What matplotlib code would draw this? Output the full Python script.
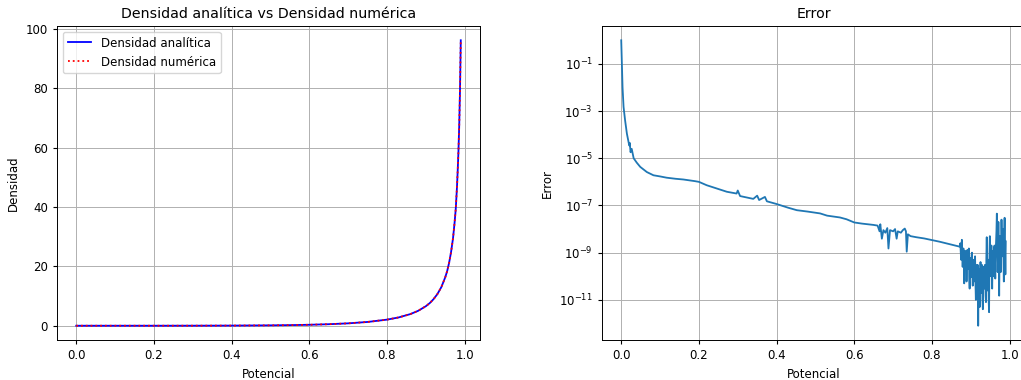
import matplotlib
matplotlib.use("Agg")
import matplotlib.pyplot as plt

plt.rcParams['font.size'] = 8.5
plt.rcParams['lines.linewidth'] = 1.3
plt.rcParams['axes.linewidth'] = 0.7
plt.rcParams['grid.linewidth'] = 0.7
plt.rcParams['xtick.major.size'] = 3
plt.rcParams['ytick.major.size'] = 3
plt.rcParams['ytick.minor.size'] = 1.7

# densidad
potencial = [0.0, 0.1, 0.2, 0.3, 0.4, 0.5, 0.55, 0.6, 0.65, 0.7, 0.75, 0.8, 0.83, 0.86,
             0.88, 0.9, 0.91, 0.92, 0.93, 0.94, 0.95, 0.955, 0.96, 0.965, 0.97, 0.974,
             0.977, 0.98, 0.982, 0.984, 0.986, 0.988, 0.99]
dens_analitica = [0.0, 0.0001, 0.002, 0.012, 0.043, 0.125, 0.2, 0.32, 0.51, 0.80, 1.27, 2.05,
                  2.79, 3.91, 5.0, 6.56, 7.6, 8.96, 10.7, 13.0, 16.3, 18.4, 21.2, 24.8, 29.4,
                  34.6, 39.2, 46.1, 51.9, 58.6, 67.4, 79.2, 96.1]
dens_numerica = [0.0, 0.0001, 0.002, 0.012, 0.043, 0.125, 0.2, 0.32, 0.51, 0.80, 1.27, 2.05,
                 2.79, 3.91, 5.0, 6.56, 7.6, 8.96, 10.7, 13.0, 16.3, 18.4, 21.2, 24.8, 29.4,
                 34.6, 39.2, 46.1, 51.9, 58.6, 67.4, 79.2, 96.1]

# error, tramo suave
pot_suave = [0.0, 0.0017, 0.0034, 0.006, 0.010, 0.0146, 0.0206, 0.022, 0.024, 0.027, 0.032,
             0.040, 0.049, 0.066, 0.083, 0.100, 0.117, 0.14, 0.160, 0.19, 0.20, 0.22, 0.25,
             0.272, 0.297, 0.300, 0.306, 0.34, 0.35, 0.355, 0.37, 0.375, 0.4, 0.43, 0.452,
             0.48, 0.512, 0.53, 0.563, 0.58, 0.6, 0.62, 0.649, 0.66, 0.665, 0.667, 0.671,
             0.675, 0.680, 0.685, 0.688, 0.692, 0.70, 0.705, 0.709, 0.712, 0.72, 0.725, 0.73,
             0.733, 0.735, 0.738, 0.745, 0.76, 0.78, 0.8, 0.82, 0.84, 0.854, 0.871]
err_suave = [1.0, 0.1, 1.0e-2, 1.5e-3, 4e-4, 1.1e-4, 3.5e-5, 4.5e-5, 1.8e-5, 2.5e-5, 1.0e-5,
             6.5e-6, 4.3e-6, 2.6e-6, 1.9e-6, 1.7e-6, 1.5e-6, 1.35e-6, 1.26e-6, 1.07e-6, 1.0e-6,
             7.2e-7, 5.0e-7, 3.8e-7, 3.2e-7, 4.3e-7, 2.5e-7, 1.9e-7, 2.6e-7, 1.7e-7, 2.3e-7,
             1.5e-7, 1.15e-7, 8e-8, 6.3e-8, 5.5e-8, 4.6e-8, 3.7e-8, 3.1e-8, 2.6e-8, 1.9e-8,
             1.7e-8, 1.5e-8, 1.4e-8, 8e-9, 1.6e-8, 3.9e-9, 9e-9, 7e-9, 1.1e-8, 1.5e-9, 9e-9,
             8e-9, 1.0e-8, 3.9e-9, 8e-9, 7e-9, 9e-9, 1.05e-8, 8e-9, 1.1e-9, 6e-9, 5e-9, 4.5e-9,
             4e-9, 3.4e-9, 2.9e-9, 2.4e-9, 2.1e-9, 1.8e-9]

# error, tramo ruidoso (0.873 .. 0.990)
pot_ruido = [0.873, 0.874, 0.875, 0.876, 0.877, 0.878, 0.879, 0.880, 0.881, 0.882,
             0.883, 0.884, 0.885, 0.886, 0.887, 0.888, 0.889, 0.890, 0.891, 0.892,
             0.893, 0.894, 0.895, 0.896, 0.897, 0.898, 0.899, 0.900, 0.901, 0.902,
             0.903, 0.904, 0.905, 0.906, 0.907, 0.908, 0.909, 0.910, 0.911, 0.912,
             0.913, 0.914, 0.915, 0.916, 0.917, 0.918, 0.919, 0.920, 0.921, 0.922,
             0.923, 0.924, 0.925, 0.926, 0.927, 0.928, 0.929, 0.930, 0.931, 0.932,
             0.933, 0.934, 0.935, 0.936, 0.937, 0.938, 0.939, 0.940, 0.941, 0.942,
             0.943, 0.944, 0.945, 0.946, 0.947, 0.948, 0.949, 0.950, 0.951, 0.952,
             0.953, 0.954, 0.955, 0.956, 0.957, 0.958, 0.959, 0.960, 0.961, 0.962,
             0.963, 0.964, 0.965, 0.966, 0.967, 0.968, 0.969, 0.970, 0.971, 0.972,
             0.973, 0.974, 0.975, 0.976, 0.977, 0.978, 0.979, 0.980, 0.981, 0.982,
             0.983, 0.984, 0.985, 0.986, 0.987, 0.988, 0.989, 0.990]
err_ruido = [2.5e-9, 1.2e-9, 5e-10, 2e-9, 3.5e-9, 8e-10, 2.5e-10, 9e-10, 1.5e-9, 4e-10,
             5e-11, 6e-10, 1.2e-9, 2e-10, 3e-10, 9e-10, 6e-11, 4e-10, 1.3e-9, 5e-10,
             2e-10, 7e-10, 1.5e-9, 1e-10, 3e-11, 4e-10, 6e-10, 9e-11, 2e-10, 8e-10,
             1.0e-9, 2e-10, 4e-11, 3e-10, 5e-10, 6e-11, 1.5e-10, 4e-10, 7e-10, 5e-11,
             1e-11, 2e-10, 3e-10, 2e-11, 6e-11, 3e-10, 8e-13, 5e-11, 2e-10, 1e-11,
             5e-12, 1.5e-10, 4e-10, 7e-11, 2e-11, 2e-10, 3e-10, 1e-11, 4e-12, 1e-10,
             2.5e-10, 4e-11, 3e-11, 3e-10, 2e-10, 1.5e-11, 8e-12, 6e-10, 4.5e-9, 3e-10,
             2.5e-11, 2e-10, 5e-10, 1e-11, 3e-12, 8e-10, 5e-9, 6e-10, 1e-10, 4e-10,
             2e-9, 2e-10, 3e-11, 5e-10, 1.2e-9, 1e-10, 4e-10, 1.5e-9, 2e-9, 3e-10,
             8e-11, 1e-9, 3e-9, 8e-9, 4.5e-8, 2e-9, 1.5e-10, 5e-10, 2e-8, 1e-9,
             1.5e-11, 8e-10, 5e-9, 3e-9, 1.5e-10, 2e-9, 2.5e-8, 4e-9, 7e-10, 3e-9,
             1e-8, 8e-10, 6e-11, 5e-9, 3e-8, 2e-9, 1.2e-10, 3e-9]

pot_err = pot_suave + pot_ruido
error = err_suave + err_ruido

fig = plt.figure(figsize=(10.21, 3.8), dpi=100)
W, H = 1021, 380
ax1 = fig.add_axes([57 / W, (H - 340) / H, 423 / W, 314 / H])
ax2 = fig.add_axes([602 / W, (H - 340) / H, 423 / W, 314 / H])

ax1.plot(potencial, dens_analitica, 'b-', label="Densidad analítica")
ax1.plot(potencial, dens_numerica, 'r:', label="Densidad numérica")
ax1.set_title("Densidad analítica vs Densidad numérica")
ax1.set_xlabel("Potencial")
ax1.set_ylabel("Densidad")
ax1.legend(loc="upper left")
ax1.grid(True)

ax2.plot(pot_err, error)
ax2.set_yscale("log")
ax2.set_title("Error")
ax2.set_xlabel("Potencial")
ax2.set_ylabel("Error")
ax2.grid(True)

fig.savefig("out.png", dpi=100)
